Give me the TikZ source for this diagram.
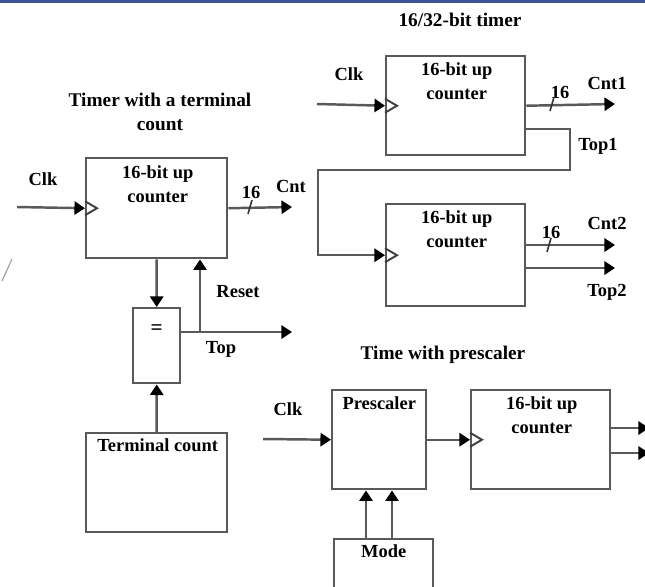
\documentclass[tikz,border=0pt]{standalone}
\usepackage{fontspec}
\setmainfont{Liberation Serif}
\usetikzlibrary{arrows.meta,calc}
\definecolor{barblue}{RGB}{58,84,148}
\begin{document}
\begin{tikzpicture}[
  x=0.02cm, y=-0.02cm,
  every node/.style={font=\fontsize{10.5}{13.6}\selectfont\bfseries, inner sep=0pt, align=center},
  blok/.style={rectangle, draw=black!65, line width=1.4pt, anchor=north west},
  wire/.style={draw=black!65, line width=1.4pt},
  sig/.style={wire, -{Triangle[length=6pt, width=7.5pt, color=black]}},
  clock/.style={draw=black!75, line width=1.1pt},
  bus/.style={draw=black!80, line width=0.9pt},
  title/.style={font=\fontsize{11}{14}\selectfont\bfseries}
]
\clip (0,0) rectangle (645,586);
\fill[white] (0,0) rectangle (645,586);
\fill[barblue] (0,0) rectangle (645,3);
\draw[black!40, line width=0.6pt] (2,281) -- (12,259);
% Timer with a terminal count
\node[title] (tA) at (160,112) {Timer with a terminal\\count};
\node[blok, minimum width=2.82cm, minimum height=2cm] (cntA) at (85,157) {};
\node[blok, minimum width=0.94cm, minimum height=1.5cm] (eqA) at (132,307) {};
\node[blok, minimum width=2.82cm, minimum height=1.98cm] (termA) at (85,432) {};
\node (cntAtxt) at ($(cntA.north)+(1,27)$) {16-bit up\\counter};
\node[font=\fontsize{12}{14}\selectfont\bfseries] (eqAtxt) at ($(eqA.north)+(0,23)$) {=};
\node (termAtxt) at ($(termA.north)+(1,13)$) {Terminal count};
\coordinate (clkA) at (17,207);
\coordinate (cntAend) at (292,207);
\coordinate (topAend) at (292,332);
\node (clkAlbl) at (43,179) {Clk};
\node (busAlbl) at (251,192) {16};
\node (cntAlbl) at (291,186) {Cnt};
\node (rstlbl) at (238,292) {Reset};
\node (toplbl) at (221,349) {Top};
\draw[sig] (clkA) -- (cntA.west);
\draw[clock] ($(cntA.west)+(0,-7)$) -- ++(12,7) -- ++(-12,7);
\draw[sig] (cntA.east) -- (cntAend);
\draw[bus] (248,214) -- (252,200);
\draw[sig] (cntA.south) -- (eqA.north);
\draw[sig] (termA.north) -- (eqA.south);
\coordinate (eqAout) at ($(eqA.north east)+(0,25)$);
\coordinate (jA) at (200,332);
\draw[sig] (eqAout) -- (topAend);
\draw[sig] (jA) -- (jA |- cntA.south);
% 16/32-bit timer
\node[title] (tB) at (460,20) {16/32-bit timer};
\node[blok, minimum width=2.78cm, minimum height=1.98cm] (cntB) at (385,55) {};
\node[blok, minimum width=2.78cm, minimum height=2.04cm] (cntC) at (385,203) {};
\node (cntBtxt) at ($(cntB.north)+(1,26)$) {16-bit up\\counter};
\node (cntCtxt) at ($(cntC.north)+(1,26)$) {16-bit up\\counter};
\coordinate (clkB) at (317,104);
\coordinate (cnt1end) at (615,104);
\coordinate (cnt2end) at (615,245);
\coordinate (top2end) at (615,268);
\node (clkBlbl) at (349,74) {Clk};
\node (busBlbl) at (560,92) {16};
\node (cnt1lbl) at (607,83) {Cnt1};
\node (top1lbl) at (598,146) {Top1};
\node (busClbl) at (551,232) {16};
\node (cnt2lbl) at (607,223) {Cnt2};
\node (top2lbl) at (607,292) {Top2};
\draw[sig] (clkB) -- (cntB.west);
\draw[clock] ($(cntB.west)+(0,-7)$) -- ++(12,7) -- ++(-12,7);
\draw[sig] (cntB.east) -- (cnt1end);
\draw[bus] (550,111) -- (554,97);
\coordinate (top1) at ($(cntB.north east)+(0,74)$);
\draw[sig] (top1) -- (570,129) |- (318,170) |- (cntC.west);
\draw[clock] ($(cntC.west)+(0,-7)$) -- ++(12,7) -- ++(-12,7);
\draw[sig] ($(cntC.north east)+(0,42)$) -- (cnt2end);
\draw[bus] (547,252) -- (551,238);
\draw[sig] ($(cntC.north east)+(0,65)$) -- (top2end);
% Timer with prescaler
\node[title] (tD) at (443,355) {Time with prescaler};
\node[blok, minimum width=1.88cm, minimum height=1.98cm] (pre) at (331,389) {};
\node[blok, minimum width=2.78cm, minimum height=1.98cm] (cntD) at (470,389) {};
\node[blok, minimum width=1.98cm, minimum height=1.3cm] (mode) at (333,538) {};
\node (pretxt) at ($(pre.north)+(0,14)$) {Prescaler};
\node (cntDtxt) at ($(cntD.north)+(1,26)$) {16-bit up\\counter};
\node (modetxt) at ($(mode.north)+(0,13)$) {Mode};
\coordinate (clkD) at (263,439);
\node (clkDlbl) at (288,409) {Clk};
\draw[sig] (clkD) -- (pre.west);
\draw[sig] (pre.east) -- (cntD.west);
\draw[clock] ($(cntD.west)+(0,-7)$) -- ++(12,7) -- ++(-12,7);
\draw[sig] ($(mode.north west)+(33,0)$) coordinate (m1) -- (m1 |- pre.south);
\draw[sig] ($(mode.north west)+(59,0)$) coordinate (m2) -- (m2 |- pre.south);
\draw[sig] ($(cntD.north east)+(0,39)$) coordinate (o1) -- (649,428);
\draw[sig] ($(cntD.north east)+(0,64)$) coordinate (o2) -- (649,453);
\end{tikzpicture}
\end{document}
